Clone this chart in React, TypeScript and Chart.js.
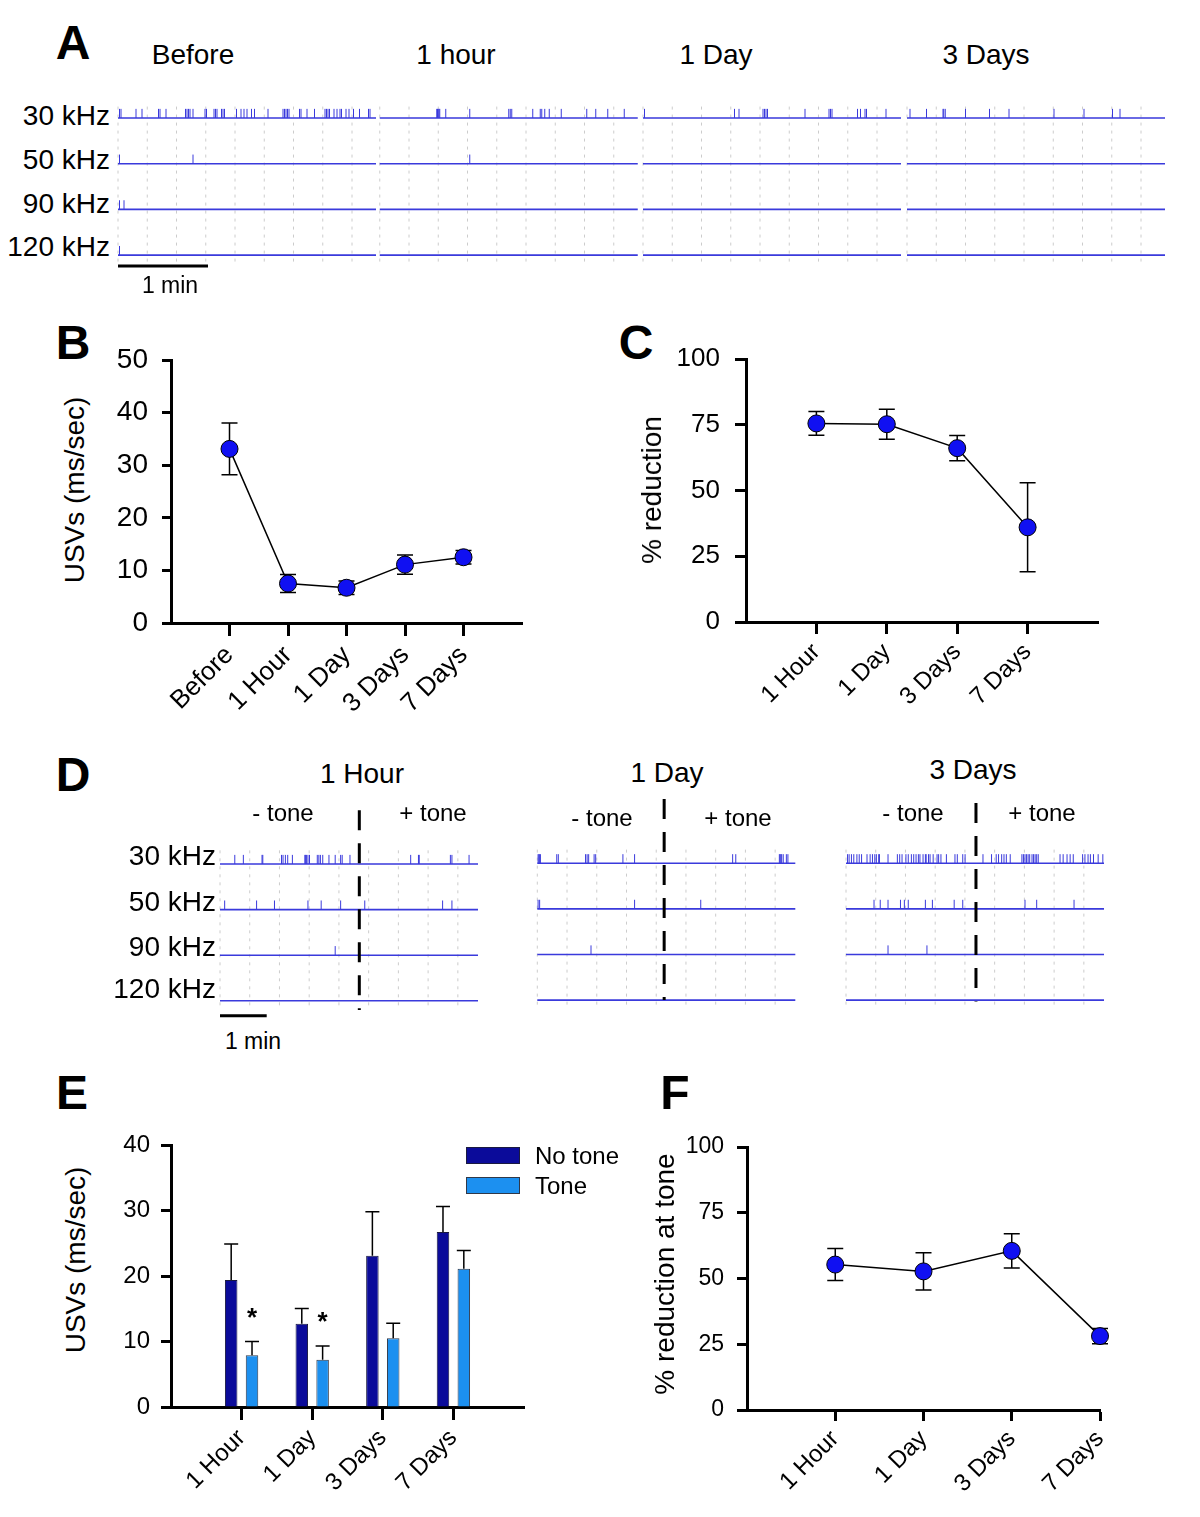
import React, { useEffect, useRef } from 'react';
import { Chart, registerables } from 'chart.js';
Chart.register(...registerables);

const FONT = "'Liberation Sans', Arial, Helvetica, sans-serif";
const TRACE = '#3a3adc';
const GRID = '#cccccc';
const DOT = '#1010f2';
const NO_TONE_COLOR = '#0b0b9a';
const TONE_COLOR = '#1c90f0';

// ---------------- Panel A : USV event times (s) per segment / band ----------------
const A_SEGMENTS = ['Before', '1 hour', '1 Day', '3 Days'];
const A_ROWS = ['30 kHz', '50 kHz', '90 kHz', '120 kHz'];
const A_BEFORE_30 = [1, 2, 12, 16, 27, 28, 32, 45, 46, 47, 48, 50, 58, 59, 64, 65, 66, 69, 70, 71, 79, 82, 84, 86, 89, 91, 100, 110, 111, 112, 113, 114, 121, 122, 126, 131, 138, 139, 140, 141, 144, 146, 148, 149, 152, 154, 157, 161, 167, 168];
const A_BEFORE_50 = [1, 50];
const A_BEFORE_90 = [1, 4];
const A_BEFORE_120 = [1];
const A_HOUR_30 = [38, 38.5, 39, 39.5, 40, 44, 60, 86, 87, 88, 102, 107, 108, 110, 113, 121, 138, 144, 152, 163];
const A_HOUR_50 = [60];
const A_HOUR_90: number[] = [];
const A_HOUR_120: number[] = [];
const A_DAY1_30 = [1, 61, 64, 80, 81, 82, 83, 108, 124, 125, 126, 143, 145, 148, 149, 162];
const A_DAY1_50: number[] = [];
const A_DAY1_90: number[] = [];
const A_DAY1_120: number[] = [];
const A_DAYS3_30 = [2, 13, 24, 24.5, 25.5, 39, 55, 68, 98, 118, 137, 142];
const A_DAYS3_50: number[] = [];
const A_DAYS3_90: number[] = [];
const A_DAYS3_120: number[] = [];
const A_SEG_LEN = 172; // s
const SCALE_BAR_S = 60; // 1 min

// ---------------- Panel B ----------------
const B_LABELS = ['Before', '1 Hour', '1 Day', '3 Days', '7 Days'];
const B_MEAN = [33.1, 7.5, 6.7, 11.1, 12.5];
const B_SEM = [4.9, 1.7, 1.3, 1.85, 1.3];
const B_YTICKS = { min: 0, max: 50, step: 10 };

// ---------------- Panel C ----------------
const C_LABELS = ['1 Hour', '1 Day', '3 Days', '7 Days'];
const C_MEAN = [75.5, 75.2, 66.1, 36.0];
const C_SEM = [4.5, 5.7, 4.8, 16.9];
const C_YTICKS = { min: 0, max: 100, step: 25 };

// ---------------- Panel D : event times (s) ----------------
const D_TITLES = ['1 Hour', '1 Day', '3 Days'];
const D_TONE_ONSET = [179, 163, 167];
const D_LEN = 331.5;
const D_HOUR_30 = [19, 30, 54, 55, 79, 81, 84, 87, 93, 109, 110, 111, 113, 115, 125, 127, 129, 132, 140, 148, 155, 157, 167, 245, 255, 256, 296, 298, 320];
const D_HOUR_50 = [6, 47, 70, 113, 130, 155, 186, 286, 298];
const D_HOUR_90 = [148];
const D_HOUR_120: number[] = [];
const D_DAY1_30 = [1, 2, 3, 4, 25, 27, 62, 64, 66, 73, 75, 110, 125, 251, 255, 311, 312, 313, 314, 316, 320, 322];
const D_DAY1_50 = [1, 3, 125, 210];
const D_DAY1_90 = [69];
const D_DAY1_120: number[] = [];
const D_DAYS3_30 = [2, 4, 7, 10, 14, 17, 20, 27, 31, 34, 37, 39, 42, 43, 54, 66, 69, 72, 77, 80, 84, 87, 90, 93, 95, 99, 102, 103, 106, 108, 112, 117, 119, 122, 129, 140, 143, 150, 153, 176, 187, 193, 196, 200, 203, 206, 211, 226, 228, 230, 232, 234, 236, 239, 241, 243, 245, 247, 275, 279, 284, 288, 292, 304, 307, 311, 314, 318, 324, 330];
const D_DAYS3_50 = [36, 44, 54, 70, 75, 80, 102, 111, 139, 150, 230, 245, 293];
const D_DAYS3_90 = [54, 104];
const D_DAYS3_120: number[] = [];

// ---------------- Panel E ----------------
const E_LABELS = ['1 Hour', '1 Day', '3 Days', '7 Days'];
const E_NO_TONE = [19.4, 12.7, 23.1, 26.7];
const E_NO_TONE_SEM = [5.5, 2.35, 6.7, 3.9];
const E_TONE = [7.9, 7.2, 10.5, 21.1];
const E_TONE_SEM = [2.1, 2.1, 2.3, 2.8];
const E_STARS = ['*', '*', '', ''];
const E_YTICKS = { min: 0, max: 40, step: 10 };

// ---------------- Panel F ----------------
const F_LABELS = ['1 Hour', '1 Day', '3 Days', '7 Days'];
const F_MEAN = [55.3, 52.7, 60.5, 28.1];
const F_SEM = [6.1, 7.1, 6.5, 2.9];
const F_YTICKS = { min: 0, max: 100, step: 25 };

// ---------------- plugins ----------------
function drawErrors(chart: any, opts: any) {
  const ctx = chart.ctx;
  const ys = chart.scales.y;
  chart.data.datasets.forEach((ds: any, i: number) => {
    if (!ds.errors) return;
    const meta = chart.getDatasetMeta(i);
    meta.data.forEach((el: any, j: number) => {
      const raw = ds.data[j];
      const val = typeof raw === 'number' ? raw : raw.y;
      const e = ds.errors[j];
      const yt = ys.getPixelForValue(val + e);
      const yb = opts.up ? ys.getPixelForValue(val) : ys.getPixelForValue(val - e);
      ctx.save();
      ctx.strokeStyle = '#000';
      ctx.lineWidth = opts.lineWidth;
      ctx.beginPath();
      ctx.moveTo(el.x, yt);
      ctx.lineTo(el.x, yb);
      ctx.moveTo(el.x - opts.cap, yt);
      ctx.lineTo(el.x + opts.cap, yt);
      if (!opts.up) {
        ctx.moveTo(el.x - opts.cap, yb);
        ctx.lineTo(el.x + opts.cap, yb);
      }
      ctx.stroke();
      if (ds.stars && ds.stars[j]) {
        ctx.fillStyle = '#000';
        ctx.font = `bold 26px ${FONT}`;
        ctx.textAlign = 'center';
        ctx.textBaseline = 'alphabetic';
        ctx.fillText(ds.stars[j], el.x, yt - 16);
      }
      ctx.restore();
    });
  });
}
const errorBarPlugin = {
  id: 'errbars',
  beforeDatasetsDraw(chart: any, _a: any, opts: any) {
    if (opts && opts.stage === 'before') drawErrors(chart, opts);
  },
  afterDatasetsDraw(chart: any, _a: any, opts: any) {
    if (opts && opts.stage === 'after') drawErrors(chart, opts);
  },
};

// ---------------- layout helpers ----------------
const PAD_TOP = 40;
const PAD_RIGHT = 40;
function placeAxes(L: number, T: number, R: number, B: number, yW: number, xH: number) {
  const left = L - yW;
  const top = T - PAD_TOP;
  return { left, top, width: Math.round(R + PAD_RIGHT - left), height: Math.round(B - top + xH) };
}

function axisOptions(o: any) {
  return {
    x: {
      type: 'linear',
      offset: false,
      min: -1,
      max: o.xMax,
      afterBuildTicks: (s: any) => {
        s.ticks = o.labels.map((_: string, i: number) => ({ value: i }));
      },
      afterFit: (s: any) => {
        s.height = o.xH;
      },
      ticks: {
        callback: (_v: any, i: number) => o.labels[i],
        autoSkip: false,
        minRotation: 45,
        maxRotation: 45,
        padding: o.xPad,
        font: { family: FONT, size: o.xFont },
        color: '#000',
      },
      grid: { offset: false, drawOnChartArea: false, tickLength: o.xTick, tickWidth: 3, tickColor: '#000', color: '#000' },
      border: { display: true, color: '#000', width: 3 },
    },
    y: {
      type: 'linear',
      min: o.yt.min,
      max: o.yt.max,
      afterFit: (s: any) => {
        s.width = o.yW;
      },
      ticks: { stepSize: o.yt.step, padding: o.yPad, font: { family: FONT, size: o.yFont }, color: '#000' },
      grid: { drawOnChartArea: false, tickLength: o.yTick, tickWidth: 3, tickColor: '#000', color: '#000' },
      border: { display: true, color: '#000', width: 3 },
    },
  };
}

function dotConfig(o: any) {
  return {
    type: 'line',
    data: {
      datasets: [
        {
          data: o.mean.map((v: number, i: number) => ({ x: i, y: v })),
          errors: o.sem,
          borderColor: '#000',
          borderWidth: 1.5,
          pointRadius: 8.5,
          pointBackgroundColor: DOT,
          pointBorderColor: '#000',
          pointBorderWidth: 1,
          tension: 0,
          clip: false,
        },
      ],
    },
    options: {
      responsive: false,
      animation: false,
      events: [],
      layout: { padding: { top: PAD_TOP, right: PAD_RIGHT, left: 0, bottom: 0 } },
      plugins: {
        legend: { display: false },
        tooltip: { enabled: false },
        errbars: { up: false, cap: 8, lineWidth: 1.5, stage: 'before' },
      },
      scales: axisOptions(o),
    },
    plugins: [errorBarPlugin],
  };
}

function barConfig(o: any) {
  const common = { barPercentage: 0.6, categoryPercentage: 0.59, borderWidth: 1, borderSkipped: 'start' };
  return {
    type: 'bar',
    data: {
      datasets: [
        {
          label: 'No tone',
          data: E_NO_TONE.map((v, i) => ({ x: i, y: v })),
          errors: E_NO_TONE_SEM,
          backgroundColor: NO_TONE_COLOR,
          borderColor: '#1a1a40',
          ...common,
        },
        {
          label: 'Tone',
          data: E_TONE.map((v, i) => ({ x: i, y: v })),
          errors: E_TONE_SEM,
          stars: E_STARS,
          backgroundColor: TONE_COLOR,
          borderColor: '#303848',
          ...common,
        },
      ],
    },
    options: {
      responsive: false,
      animation: false,
      events: [],
      layout: { padding: { top: PAD_TOP, right: PAD_RIGHT, left: 0, bottom: 0 } },
      plugins: {
        legend: { display: false },
        tooltip: { enabled: false },
        errbars: { up: true, cap: 7, lineWidth: 1.5, stage: 'after' },
      },
      scales: axisOptions(o),
    },
    plugins: [errorBarPlugin],
  };
}

// raster (trace) chart config
function rasterConfig(p: any) {
  const grid: any[] = [];
  const base: any[] = [];
  const ev: any[] = [];
  p.segments.forEach((seg: any) => {
    for (let k = 0; k < p.gridN; k++) {
      const x = seg.off + k * p.gridStep;
      grid.push({ x, y: p.gridTop }, { x, y: p.gridBottom }, { x, y: null });
    }
    seg.rows.forEach((times: number[], r: number) => {
      base.push({ x: seg.off, y: r }, { x: seg.off + seg.len, y: r }, { x: seg.off + seg.len, y: null });
      times.forEach((t) => {
        ev.push({ x: seg.off + t, y: r }, { x: seg.off + t, y: r - p.tickH }, { x: seg.off + t, y: null });
      });
    });
  });
  const line = { pointRadius: 0, tension: 0, spanGaps: false, fill: false };
  const datasets: any[] = [
    { ...line, data: grid, borderColor: GRID, borderWidth: 1, borderDash: [3, 5], order: 5 },
    { ...line, data: base, borderColor: TRACE, borderWidth: 1.6, order: 4 },
    { ...line, data: ev, borderColor: TRACE, borderWidth: 1, order: 3 },
  ];
  if (p.scaleBar) {
    datasets.push({
      ...line,
      data: [
        { x: 0, y: p.scaleBar.row },
        { x: SCALE_BAR_S, y: p.scaleBar.row },
      ],
      borderColor: '#000',
      borderWidth: 3,
      order: 2,
    });
  }
  if (p.tone) {
    datasets.push({
      ...line,
      data: [
        { x: p.tone.t, y: p.tone.top },
        { x: p.tone.t, y: p.tone.bottom },
      ],
      borderColor: '#000',
      borderWidth: 3,
      borderDash: [20, 13],
      order: 1,
    });
  }
  return {
    type: 'line',
    data: { datasets },
    options: {
      responsive: false,
      animation: false,
      events: [],
      layout: { padding: 0 },
      plugins: { legend: { display: false }, tooltip: { enabled: false } },
      scales: {
        x: {
          type: 'linear',
          display: false,
          min: (p.left - p.x0) / p.k,
          max: (p.left + p.width - p.x0) / p.k,
        },
        y: {
          type: 'linear',
          display: false,
          reverse: true,
          min: (p.top - p.y0) / p.step,
          max: (p.top + p.height - p.y0) / p.step,
        },
      },
    },
  };
}

function ChartCanvas({ left, top, width, height, make }: any) {
  const ref = useRef<HTMLCanvasElement>(null);
  useEffect(() => {
    const chart = new Chart(ref.current as HTMLCanvasElement, make());
    return () => chart.destroy();
  }, []);
  return (
    <canvas
      ref={ref}
      width={width}
      height={height}
      style={{ position: 'absolute', left, top, width, height, display: 'block' }}
    />
  );
}

function Txt({ x, y, size, bold, anchor = 'c', rot, children }: any) {
  const tx = anchor === 'r' ? '-100%' : anchor === 'l' ? '0' : '-50%';
  return (
    <div
      style={{
        position: 'absolute',
        left: x,
        top: y,
        transform: `translate(${tx}, -50%)${rot ? ` rotate(${rot}deg)` : ''}`,
        fontFamily: FONT,
        fontSize: size,
        fontWeight: bold ? 'bold' : 'normal',
        whiteSpace: 'nowrap',
        lineHeight: 1,
        color: '#000',
      }}
    >
      {children}
    </div>
  );
}

export default function App() {
  // Panel A placement
  const aPlace = { left: 114, top: 95, width: 1056, height: 184 };
  const aSegOffsets = [0, 174.5, 350, 526];
  const aRows = [
    [A_BEFORE_30, A_BEFORE_50, A_BEFORE_90, A_BEFORE_120],
    [A_HOUR_30, A_HOUR_50, A_HOUR_90, A_HOUR_120],
    [A_DAY1_30, A_DAY1_50, A_DAY1_90, A_DAY1_120],
    [A_DAYS3_30, A_DAYS3_50, A_DAYS3_90, A_DAYS3_120],
  ];
  const makeA = () =>
    rasterConfig({
      ...aPlace,
      x0: 118,
      k: 1.5,
      y0: 118,
      step: 45.7,
      gridStep: 19.5,
      gridN: 9,
      gridTop: -0.25,
      gridBottom: 3.15,
      tickH: 0.2,
      segments: aRows.map((rows, i) => ({ off: aSegOffsets[i], len: A_SEG_LEN, rows })),
      scaleBar: { row: 3.24 },
    });

  // Panel D placements
  const dDefs = [
    { x0: 220, y0: 864, rows: [D_HOUR_30, D_HOUR_50, D_HOUR_90, D_HOUR_120], top: -1.18, bottom: 3.2, bar: true },
    { x0: 537.3, y0: 863.3, rows: [D_DAY1_30, D_DAY1_50, D_DAY1_90, D_DAY1_120], top: -1.41, bottom: 3.0, bar: false },
    { x0: 846, y0: 863.3, rows: [D_DAYS3_30, D_DAYS3_50, D_DAYS3_90, D_DAYS3_120], top: -1.32, bottom: 3.03, bar: false },
  ];
  const D_K = 0.7783;

  const bP = placeAxes(171, 360, 522, 622.7, 80, 110);
  const cP = placeAxes(746, 359.3, 1098, 622.7, 80, 110);
  const eP = placeAxes(171.2, 1145, 524, 1407.3, 80, 110);
  const fP = placeAxes(746.7, 1147.3, 1099.3, 1410.7, 80, 110);

  return (
    <div style={{ position: 'absolute', left: 0, top: 0, width: 1200, height: 1517, background: '#fff', overflow: 'hidden' }}>
      <ChartCanvas {...aPlace} make={makeA} />
      {dDefs.map((d, i) => {
        const place = { left: Math.round(d.x0) - 5, top: 790, width: 272, height: 236 };
        return (
          <ChartCanvas
            key={i}
            {...place}
            make={() =>
              rasterConfig({
                ...place,
                x0: d.x0,
                k: D_K,
                y0: d.y0,
                step: 45.6,
                gridStep: 38.2,
                gridN: 9,
                gridTop: -0.3,
                gridBottom: 3.2,
                tickH: 0.2,
                segments: [{ off: 0, len: D_LEN, rows: d.rows }],
                tone: { t: D_TONE_ONSET[i], top: d.top, bottom: d.bottom },
                scaleBar: d.bar ? { row: 3.33 } : undefined,
              })
            }
          />
        );
      })}
      <ChartCanvas
        {...bP}
        make={() =>
          dotConfig({ labels: B_LABELS, mean: B_MEAN, sem: B_SEM, yt: B_YTICKS, xMax: 5, yFont: 28, xFont: 26, yTick: 9, yPad: 14, xTick: 13, xPad: 4, yW: 80, xH: 110 })
        }
      />
      <ChartCanvas
        {...cP}
        make={() =>
          dotConfig({ labels: C_LABELS, mean: C_MEAN, sem: C_SEM, yt: C_YTICKS, xMax: 4, yFont: 26, xFont: 24, yTick: 11, yPad: 15, xTick: 12, xPad: 4, yW: 80, xH: 110 })
        }
      />
      <ChartCanvas
        {...eP}
        make={() =>
          barConfig({ labels: E_LABELS, yt: E_YTICKS, xMax: 4, yFont: 24, xFont: 24, yTick: 10, yPad: 11, xTick: 13, xPad: 4, yW: 80, xH: 110 })
        }
      />
      <ChartCanvas
        {...fP}
        make={() =>
          dotConfig({ labels: F_LABELS, mean: F_MEAN, sem: F_SEM, yt: F_YTICKS, xMax: 3, yFont: 23, xFont: 24, yTick: 10, yPad: 13, xTick: 11, xPad: 4, yW: 80, xH: 110 })
        }
      />

      {/* Panel letters */}
      <Txt x={73} y={43} size={48} bold>A</Txt>
      <Txt x={73} y={343} size={48} bold>B</Txt>
      <Txt x={636} y={343} size={48} bold>C</Txt>
      <Txt x={73} y={775} size={48} bold>D</Txt>
      <Txt x={72} y={1093} size={48} bold>E</Txt>
      <Txt x={675} y={1093} size={48} bold>F</Txt>

      {/* Panel A texts */}
      {A_SEGMENTS.map((s, i) => (
        <Txt key={s} x={[193, 456, 716, 986][i]} y={55} size={28}>{s}</Txt>
      ))}
      {A_ROWS.map((r, i) => (
        <Txt key={r} x={110} y={[116, 160, 204, 247][i]} size={28} anchor="r">{r}</Txt>
      ))}
      <Txt x={170} y={285} size={23}>1 min</Txt>

      {/* Axis titles */}
      <Txt x={75} y={490} size={28} rot={-90}>USVs (ms/sec)</Txt>
      <Txt x={652} y={490} size={28} rot={-90}>% reduction</Txt>
      <Txt x={76} y={1260} size={28} rot={-90}>USVs (ms/sec)</Txt>
      <Txt x={665} y={1274} size={28} rot={-90}>% reduction at tone</Txt>

      {/* Panel D texts */}
      {D_TITLES.map((t, i) => (
        <Txt key={t} x={[362, 667, 973][i]} y={[774, 773, 770][i]} size={28}>{t}</Txt>
      ))}
      {[283, 602, 913].map((x, i) => (
        <Txt key={'m' + i} x={x} y={[813, 818, 813][i]} size={24}>- tone</Txt>
      ))}
      {[433, 738, 1042].map((x, i) => (
        <Txt key={'p' + i} x={x} y={[813, 818, 813][i]} size={24}>+ tone</Txt>
      ))}
      {A_ROWS.map((r, i) => (
        <Txt key={'d' + r} x={216} y={[856, 902, 947, 989][i]} size={28} anchor="r">{r}</Txt>
      ))}
      <Txt x={253} y={1041} size={23}>1 min</Txt>

      {/* Panel E legend */}
      <div style={{ position: 'absolute', left: 466, top: 1147, width: 54, height: 17, background: NO_TONE_COLOR, border: '1px solid #1a1a40', boxSizing: 'border-box' }} />
      <div style={{ position: 'absolute', left: 466, top: 1177, width: 54, height: 17, background: TONE_COLOR, border: '1px solid #303848', boxSizing: 'border-box' }} />
      <Txt x={535} y={1156} size={24} anchor="l">No tone</Txt>
      <Txt x={535} y={1186} size={24} anchor="l">Tone</Txt>
    </div>
  );
}
